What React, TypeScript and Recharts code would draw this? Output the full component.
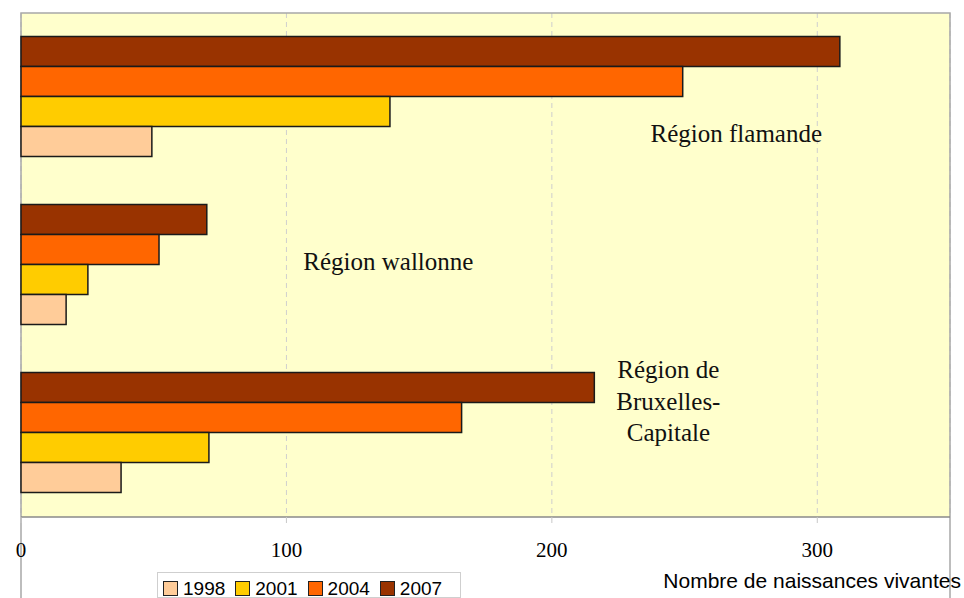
import React from 'react';
import {
  BarChart, Bar, XAxis, YAxis, CartesianGrid, Legend, ReferenceDot, ReferenceArea,
} from 'recharts';

const regions = ['Région flamande', 'Région wallonne', 'Région de Bruxelles-Capitale'];
const regionLabelLines = [['Région flamande'], ['Région wallonne'], ['Région de', 'Bruxelles-', 'Capitale']];
const regionLabelX = [269.5, 138.4, 243.9];
const regionLabelDy = [45, 5, -55];

const years = ['1998', '2001', '2004', '2007'];
const values1998 = [49.3, 17, 37.7];
const values2001 = [139, 25.2, 70.8];
const values2004 = [249.3, 52, 166];
const values2007 = [308.5, 70, 216];
const yearColors = ['#FFCC99', '#FFCC00', '#FF6600', '#993300'];

const xTicks = [0, 100, 200, 300];
const axisTitle = 'Nombre de naissances vivantes';

const data = regions.map((region, i) => ({
  region,
  y1998: values1998[i],
  y2001: values2001[i],
  y2004: values2004[i],
  y2007: values2007[i],
}));

const serif = '"Liberation Serif", "DejaVu Serif", serif';
const sans = '"Liberation Sans", Arial, sans-serif';

const LegendContent = () => (
  <div
    style={{
      border: '1px solid #cfcfcf',
      height: 26,
      width: 304,
      boxSizing: 'border-box',
      background: '#fff',
      display: 'flex',
      alignItems: 'flex-start',
      paddingLeft: 5,
      paddingTop: 8,
      fontFamily: sans,
      fontSize: 19,
      lineHeight: '15px',
      color: '#000',
    }}
  >
    {years.map((y, i) => (
      <div key={y} style={{ display: 'flex', alignItems: 'center', marginRight: 10 }}>
        <div
          style={{
            width: 13,
            height: 13,
            background: yearColors[i],
            border: '1px solid #222',
            marginRight: 5,
          }}
        />
        <span>{y}</span>
      </div>
    ))}
  </div>
);

export default function App() {
  return (
    <div style={{ position: 'absolute', left: 0, top: 0, width: 964, height: 598, background: '#fff' }}>
      <BarChart
        width={964}
        height={598}
        data={data}
        layout="vertical"
        margin={{ top: 13, right: 14, left: 17, bottom: 51 }}
        barCategoryGap="14%"
        barGap={0}
      >
        <CartesianGrid
          horizontal={false}
          vertical
          xAxisId="b"
          yAxisId="tk"
          stroke="#cfcfcf"
          strokeDasharray="5 4"
          fill="#FFFFCC"
          fillOpacity={1}
        />
        <ReferenceArea
          xAxisId="b"
          yAxisId="tk"
          x1={0}
          x2={350}
          y1={0}
          y2={3}
          fill="none"
          fillOpacity={0}
          stroke="#a8a8a8"
          strokeWidth={1.5}
          ifOverflow="visible"
        />
        <XAxis
          xAxisId="b"
          type="number"
          domain={[0, 350]}
          ticks={xTicks}
          height={30}
          axisLine={{ stroke: '#8a8a8a', strokeWidth: 1.5 }}
          tickLine={{ stroke: '#c8c8c8' }}
          tickSize={6}
          tickMargin={19}
          tick={{ fontFamily: serif, fontSize: 21, fill: '#000' }}
          label={{
            content: (props: any) => {
              const vb = props.viewBox || { x: 21, y: 517, width: 929 };
              return (
                <text
                  x={vb.x + vb.width + 11}
                  y={vb.y + 71}
                  textAnchor="end"
                  fontFamily={sans}
                  fontSize={21}
                  fill="#000"
                >
                  {axisTitle}
                </text>
              );
            },
          }}
        />
        <YAxis yAxisId="cat" type="category" dataKey="region" hide />
        <YAxis
          yAxisId="tk"
          type="number"
          domain={[0, 3]}
          ticks={[0, 1, 2, 3]}
          width={4}
          tick={false}
          tickSize={4}
          tickLine={{ stroke: '#8a8a8a' }}
          axisLine={{ stroke: '#8a8a8a', strokeWidth: 1.5 }}
        />
        <Bar xAxisId="b" yAxisId="cat" dataKey="y2007" name="2007" fill={yearColors[3]} stroke="#1a1a1a" strokeWidth={1.5} isAnimationActive={false} />
        <Bar xAxisId="b" yAxisId="cat" dataKey="y2004" name="2004" fill={yearColors[2]} stroke="#1a1a1a" strokeWidth={1.5} isAnimationActive={false} />
        <Bar xAxisId="b" yAxisId="cat" dataKey="y2001" name="2001" fill={yearColors[1]} stroke="#1a1a1a" strokeWidth={1.5} isAnimationActive={false} />
        <Bar xAxisId="b" yAxisId="cat" dataKey="y1998" name="1998" fill={yearColors[0]} stroke="#1a1a1a" strokeWidth={1.5} isAnimationActive={false} />
        {regions.map((r, i) => (
          <ReferenceDot
            key={r}
            xAxisId="b"
            yAxisId="cat"
            x={regionLabelX[i]}
            y={r}
            r={0}
            ifOverflow="visible"
            shape={(p: any) => (
              <text
                x={p.cx}
                y={p.cy + regionLabelDy[i]}
                textAnchor="middle"
                fontFamily={serif}
                fontSize={25}
                fill="#111"
              >
                {regionLabelLines[i].map((line, j) => (
                  <tspan key={j} x={p.cx} dy={j === 0 ? 0 : 31.5}>
                    {line}
                  </tspan>
                ))}
              </text>
            )}
          />
        ))}
        <Legend
          layout="horizontal"
          verticalAlign="middle"
          align="center"
          content={() => <LegendContent />}
          wrapperStyle={{ left: 157, top: 572, width: 304, height: 26 }}
        />
      </BarChart>
    </div>
  );
}
